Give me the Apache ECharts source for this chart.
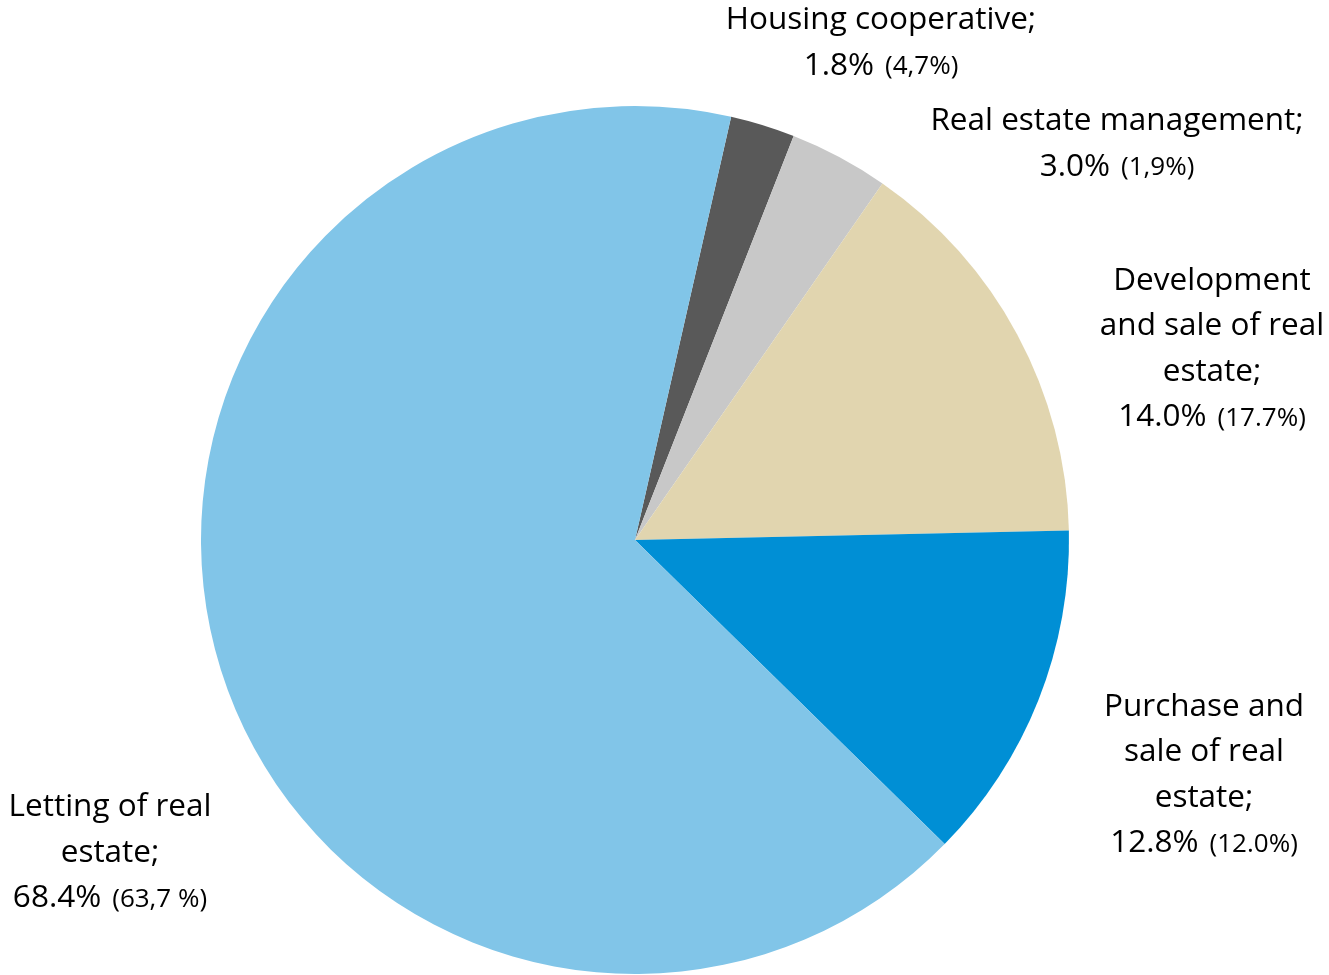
<!DOCTYPE html>
<html>
<head>
<meta charset="utf-8">
<script src="https://cdn.jsdelivr.net/npm/echarts@6/dist/echarts.min.js"></script>
<style>html,body{margin:0;padding:0;background:#fff}#c{width:1329px;height:975px}</style>
</head>
<body>
<div id="c"></div>
<script>
// Categories in clockwise order starting near the top
const categories = [
  'Housing cooperative;',
  'Real estate management;',
  'Development\nand sale of real\nestate;',
  'Purchase and\nsale of real\nestate;',
  'Letting of real\nestate;'
];
// Slice shares as drawn (%)
const sliceShares = [2.4, 3.7, 15.0, 12.7, 66.2];
// Printed label values
const labelValues = ['1.8%', '3.0%', '14.0%', '12.8%', '68.4%'];
const previousValues = ['(4,7%)', '(1,9%)', '(17.7%)', '(12.0%)', '(63,7 %)'];

const colors = ['#595959', '#C8C8C8', '#E1D5AF', '#008FD5', '#81C5E8'];
// label anchor positions (centre x, middle y of label block)
const labelPos = [
  [881, 43],
  [1117, 144],
  [1212, 349],
  [1204, 775],
  [110, 853]
];

const FONT = 'Open Sans';
const chart = echarts.init(document.getElementById('c'), null, {renderer: 'canvas'});
chart.setOption({
  backgroundColor: '#ffffff',
  animation: false,
  series: [{
    type: 'pie',
    center: [635, 540],
    radius: [0, 434],
    startAngle: 77.2,
    clockwise: true,
    avoidLabelOverlap: false,
    itemStyle: {borderWidth: 0},
    labelLine: {show: false},
    label: {
      show: true,
      position: 'outside',
      formatter: function (p) {
        const i = p.dataIndex;
        return '{a|' + categories[i].split('\n').join('}\n{a|') + '}\n{a|' + labelValues[i] + '}{b|' + previousValues[i] + '}';
      },
      rich: {
        a: {fontFamily: FONT, fontSize: 31.5, color: '#000', lineHeight: 45.5},
        b: {fontFamily: FONT, fontSize: 26, color: '#000', lineHeight: 45.5, padding: [2, 0, 0, 11]}
      },
      align: 'center'
    },
    labelLayout: function (params) {
      const pos = labelPos[params.dataIndex];
      return {x: pos[0], y: pos[1], align: 'center', verticalAlign: 'middle', hideOverlap: false};
    },
    data: categories.map((c, i) => ({
      name: c,
      value: sliceShares[i],
      itemStyle: {color: colors[i]}
    }))
  }]
});
</script>
</body>
</html>
